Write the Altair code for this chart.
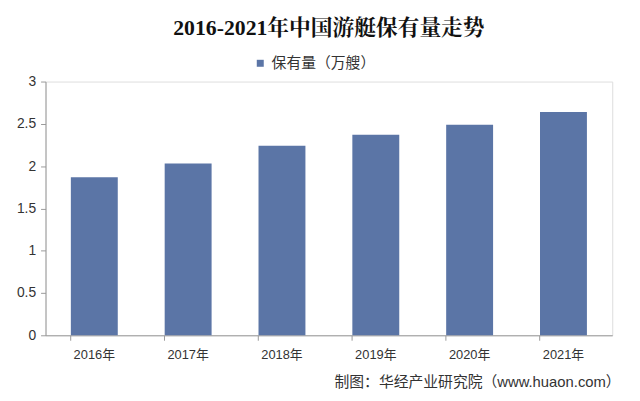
import altair as alt
import pandas as pd

years = ["2016年", "2017年", "2018年", "2019年", "2020年", "2021年"]
values = [1.87, 2.03, 2.24, 2.37, 2.49, 2.64]
series = "保有量（万艘）"

df = pd.DataFrame({"year": years, "value": values, "series": [series] * len(years)})

sans = "Liberation Sans, Noto Sans CJK SC"

bars = alt.Chart(df).mark_bar(color="#5b75a6").encode(
    x=alt.X("year:N", sort=years,
            scale=alt.Scale(paddingInner=0.5, paddingOuter=0.27),
            axis=alt.Axis(title="制图：华经产业研究院（www.huaon.com）",
                          titleAnchor="end", titleAlign="right", titleX=582,
                          titleFont=sans, titleFontSize=15,
                          titleFontWeight="normal", titleColor="#333333",
                          titlePadding=14,
                          labelAngle=0, labelFont=sans, labelFontSize=13,
                          labelColor="#333333", labelPadding=8,
                          bandPosition=0, tickSize=5, tickColor="#999999",
                          domainColor="#999999", grid=False)),
    y=alt.Y("value:Q", scale=alt.Scale(domain=[0, 3]),
            axis=alt.Axis(title=None, values=[0, 0.5, 1, 1.5, 2, 2.5, 3], format="~g",
                          labelFont=sans, labelFontSize=14, labelColor="#333333",
                          tickSize=5, tickColor="#999999", domainColor="#999999",
                          grid=False, labelPadding=5)),
    fill=alt.Fill("series:N", scale=alt.Scale(range=["#5b75a6"]),
                  legend=alt.Legend(title=None, orient="none", legendX=210, legendY=-26,
                                    symbolType="square", symbolSize=50,
                                    labelFont=sans, labelFontSize=15,
                                    labelColor="#333333")),
)

chart = bars.properties(
    width=574, height=257,
    padding={"left": 38, "top": 72, "right": 20, "bottom": 60},
    autosize=alt.AutoSizeParams(type="none"),
    title=alt.TitleParams("2016-2021年中国游艇保有量走势",
                          font="Liberation Serif, Noto Serif CJK SC, Noto Sans CJK SC",
                          fontSize=22, fontWeight="bold", color="#111111",
                          anchor="middle", offset=16),
).configure_view(stroke=None).configure(background="white")

chart.save("out.html", embed_options={"renderer": "svg", "actions": False})
